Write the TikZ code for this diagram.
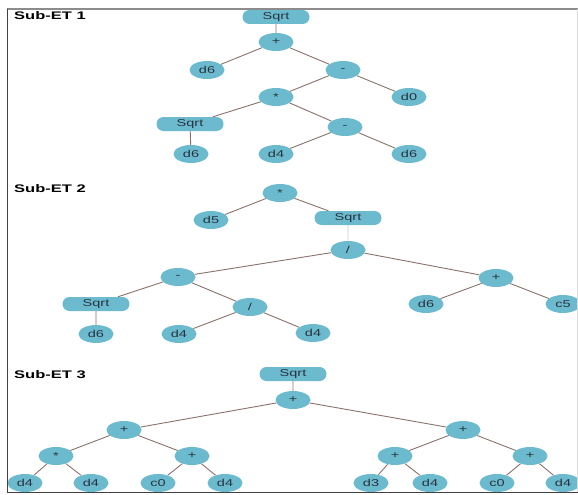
\documentclass[tikz,border=0pt]{standalone}
\usepackage{fontspec}
\setmainfont{Liberation Sans}
\newfontfamily\treefont[FakeStretch=1.45]{Liberation Sans}
\newfontfamily\titlefont[FakeStretch=1.5]{Liberation Sans Bold}
\usepackage{tikz}
\usetikzlibrary{shapes.geometric,shapes.misc,backgrounds}
\definecolor{nodeblue}{RGB}{108,186,205}
\definecolor{edgebrown}{RGB}{138,114,108}
\definecolor{labelgray}{RGB}{40,50,64}

\begin{document}
\begin{tikzpicture}[x=1pt,y=-1pt,
  op/.style={ellipse,fill=nodeblue,minimum width=35pt,minimum height=18pt,inner sep=0pt,
    text=labelgray,font=\treefont\fontsize{10}{11}\selectfont},
  sqrtbox/.style={rounded rectangle,fill=nodeblue,minimum width=67pt,minimum height=14pt,
    inner sep=0pt,text=labelgray,font=\treefont\fontsize{10}{11}\selectfont},
  edge/.style={edgebrown,line width=.9pt},
  title/.style={anchor=west,inner sep=0pt,font=\titlefont\fontsize{11}{12}\selectfont}]
\useasboundingbox (0,0) rectangle (578,495);
% Sub-ET 1
\node[title] (t1) at (14,16){Sub-ET 1};
\node[sqrtbox] (a0) at (276,17){Sqrt};
\node[op] (a1) at (276,42){+};
\node[op] (a2) at (207,70){d6};
\node[op] (a3) at (343,70){-};
\node[op] (a4) at (276,97){*};
\node[op] (a5) at (409,97){d0};
\node[sqrtbox] (a6) at (190,124){Sqrt};
\node[op] (a7) at (345,127){-};
\node[op] (a8) at (191,154){d6};
\node[op] (a9) at (276,154){d4};
\node[op] (a10) at (409,154){d6};
% Sub-ET 2
\node[title] (t2) at (14,189){Sub-ET 2};
\node[op] (b0) at (280,193){*};
\node[op] (b1) at (211,220){d5};
\node[sqrtbox] (b2) at (348,218){Sqrt};
\node[op] (b3) at (348,250){/};
\node[op] (b4) at (178,277){-};
\node[op] (b5) at (496,278){+};
\node[sqrtbox] (b6) at (96,304){Sqrt};
\node[op] (b7) at (250,307){/};
\node[op] (b8) at (426,304){d6};
\node[op] (b9) at (563,304){c5};
\node[op] (b10) at (96,334){d6};
\node[op] (b11) at (179,334){d4};
\node[op] (b12) at (313,333){d4};
% Sub-ET 3
\node[title] (t3) at (14,375){Sub-ET 3};
\node[sqrtbox] (c0) at (293,374){Sqrt};
\node[op] (c1) at (293,400){+};
\node[op] (c2) at (124,430){+};
\node[op] (c3) at (463,430){+};
\node[op] (c4) at (56,456){*};
\node[op] (c5) at (192,456){+};
\node[op] (c6) at (395,456){+};
\node[op] (c7) at (530,456){+};
\node[op] (c8) at (25,483){d4};
\node[op] (c9) at (91,483){d4};
\node[op] (c10) at (158,483){c0};
\node[op] (c11) at (225,483){d4};
\node[op] (c12) at (371,483){d3};
\node[op] (c13) at (430,483){d4};
\node[op] (c14) at (497,483){c0};
\node[op] (c15) at (563,483){d4};
\begin{scope}[on background layer]
\draw[edge] (a0)--(a1) (a1)--(a2) (a1)--(a3) (a3)--(a4) (a3)--(a5)
  (a4)--(a6) (a4)--(a7) (a6)--(a8) (a7)--(a9) (a7)--(a10);
\draw[edge] (b0)--(b1) (b0)--(b2) (b3)--(b4) (b3)--(b5) (b4)--(b6) (b4)--(b7)
  (b6)--(b10) (b7)--(b11) (b7)--(b12) (b5)--(b8) (b5)--(b9);
\draw[black!20,line width=.7pt] (b2)--(b3);
\draw[edge] (c0)--(c1) (c1)--(c2) (c1)--(c3) (c2)--(c4) (c2)--(c5) (c3)--(c6) (c3)--(c7)
  (c4)--(c8) (c4)--(c9) (c5)--(c10) (c5)--(c11) (c6)--(c12) (c6)--(c13) (c7)--(c14) (c7)--(c15);
\end{scope}
% frame
\draw[black!45,line width=2pt] (7,9)--(578,9);
\draw[black!75,line width=1pt] (7,9)--(7,492)--(578,492);
\draw[black!15,line width=.6pt] (577,9)--(577,492);
\end{tikzpicture}
\end{document}
